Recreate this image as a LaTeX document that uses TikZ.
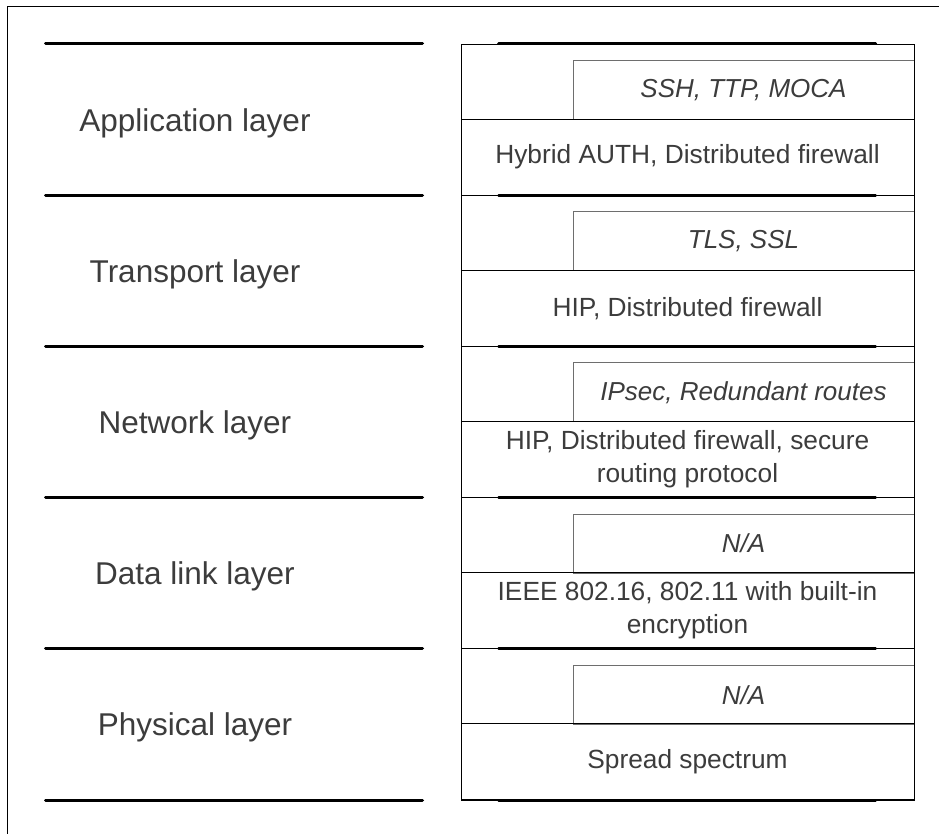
\documentclass[tikz,border=0pt]{standalone}
\usepackage{fontspec}
\setmainfont{Liberation Sans}
\usetikzlibrary{positioning}
\definecolor{ink}{HTML}{3C3C3C}
\definecolor{boxgray}{HTML}{6E6E6E}

\begin{document}
\begin{tikzpicture}[x = 1pt, y = -1pt, node distance = 151.2pt, on grid, inner sep = 0pt, layer/.style = {text = ink, font = \fontsize{31.5}{38}\selectfont}, proto/.style = {draw = boxgray, line width = 1pt, minimum width = 341pt, minimum height = 59pt, text = ink, font = \fontsize{26}{31}\selectfont\itshape}, mech/.style = {draw, line width = 0.8pt, minimum width = 453pt, minimum height = 76pt, align = center, text = ink, font = \fontsize{26.3}{33}\selectfont}, rule/.style = {line width = 3pt, line cap = round}]
\useasboundingbox (0,0) rectangle (939,834);
\draw[line width = 0.8pt] (939,6) -- (7,6) -- (7,834);

% layer names
\node[layer] (app) at (195,123) {Application layer};
\node[layer, below = of app] (trans) {Transport layer};
\node[layer, below = of trans] (net) {Network layer};
\node[layer, below = of net] (link) {Data link layer};
\node[layer, below = of link] (phys) {Physical layer};

% protocols
\node[proto] (appP) at (743.5,90) {SSH, TTP, MOCA};
\node[proto, below = of appP] (transP) {TLS, SSL};
\node[proto, below = of transP] (netP) {IPsec, Redundant routes};
\node[proto, below = of netP] (linkP) {N/A};
\node[proto, below = of linkP] (physP) {N/A};

% mechanisms
\node[mech] (appM) at (687.5,157) {Hybrid AUTH, Distributed firewall};
\node[mech, below = of appM] (transM) {HIP, Distributed firewall};
\node[mech, below = of transM] (netM) {HIP, Distributed firewall, secure\\routing protocol};
\node[mech, below = of netM] (linkM) {IEEE 802.16, 802.11 with built-in\\encryption};
\node[mech, below = of linkM] (physM) {Spread spectrum};

\node[draw, line width = 0.8pt, minimum width = 453pt, minimum height = 756pt] (stack) at (687.5,422) {};

\foreach \y in {44, 195.2, 346.4, 497.6, 648.8, 800}
  \draw[rule] (45.5,\y) -- (422.5,\y) (498.5,\y) -- (875.5,\y);
\end{tikzpicture}
\end{document}
